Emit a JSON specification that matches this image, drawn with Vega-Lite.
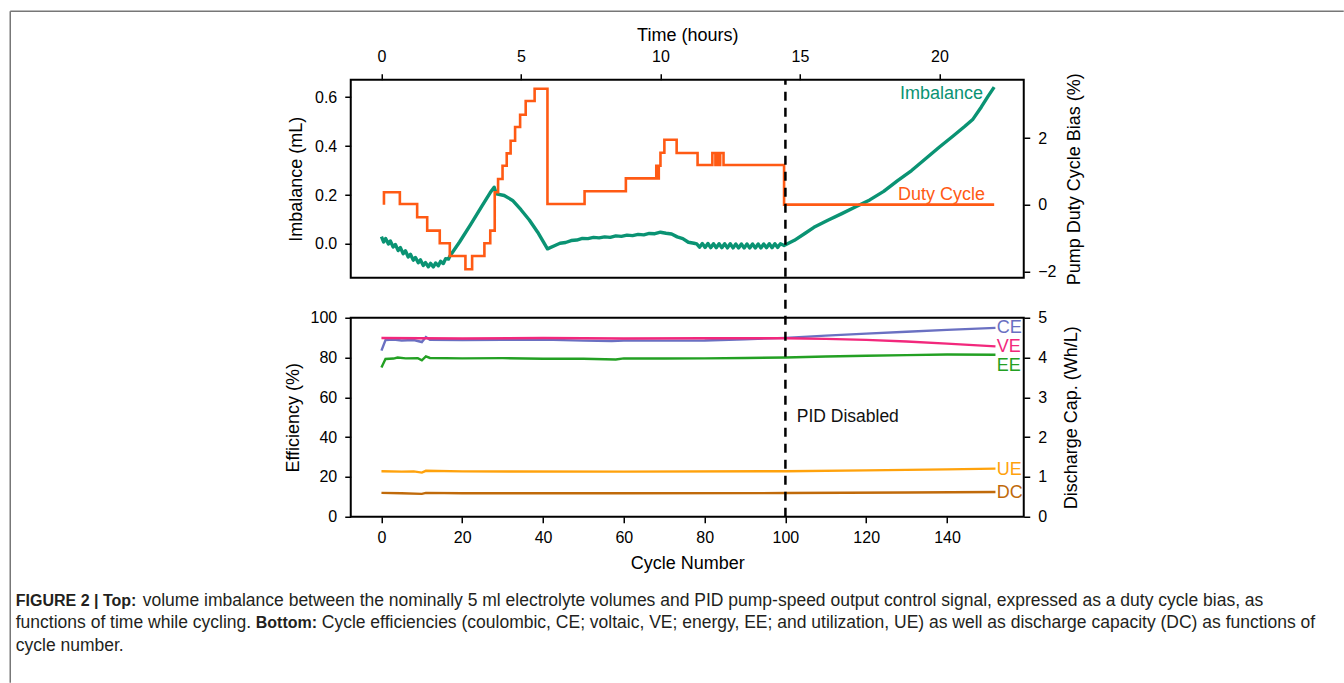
{
  "$schema": "https://vega.github.io/schema/vega-lite/v6.json",
  "padding": {"left": 8.75, "top": 9.75, "right": 0, "bottom": 0},
  "background": "white",
  "bounds": "flush",
  "spacing": 40,
  "config": {
    "font": "Liberation Sans",
    "view": {"stroke": "black", "strokeWidth": 2},
    "axis": {"domain": false, "grid": false, "tickColor": "black", "tickWidth": 1.5, "tickSize": 6, "labelColor": "black", "labelFontSize": 16, "labelPadding": 8, "labelOverlap": false, "titleColor": "black", "titleFontSize": 18, "titleFontWeight": "normal"}
  },
  "datasets": {
    "imb": [
      {"t": 0.0, "v": 0.03}, {"t": 0.08, "v": 0.008}, {"t": 0.15, "v": 0.022}, {"t": 0.25, "v": 0.0}, {"t": 0.32, "v": 0.012},
      {"t": 0.42, "v": -0.012}, {"t": 0.5, "v": -0.002}, {"t": 0.6, "v": -0.027}, {"t": 0.68, "v": -0.015}, {"t": 0.78, "v": -0.04},
      {"t": 0.86, "v": -0.028}, {"t": 0.96, "v": -0.053}, {"t": 1.04, "v": -0.042}, {"t": 1.14, "v": -0.066}, {"t": 1.22, "v": -0.055},
      {"t": 1.32, "v": -0.077}, {"t": 1.4, "v": -0.065}, {"t": 1.5, "v": -0.088}, {"t": 1.58, "v": -0.076}, {"t": 1.68, "v": -0.093},
      {"t": 1.76, "v": -0.079}, {"t": 1.86, "v": -0.094}, {"t": 1.94, "v": -0.078}, {"t": 2.04, "v": -0.089}, {"t": 2.12, "v": -0.071},
      {"t": 2.22, "v": -0.08}, {"t": 2.3, "v": -0.06}, {"t": 2.4, "v": -0.062}, {"t": 2.45, "v": -0.05},
      {"t": 2.8, "v": 0.008}, {"t": 3.2, "v": 0.08}, {"t": 3.6, "v": 0.155}, {"t": 3.9, "v": 0.21}, {"t": 4.04, "v": 0.232},
      {"t": 4.12, "v": 0.205}, {"t": 4.4, "v": 0.198}, {"t": 4.7, "v": 0.178}, {"t": 5.0, "v": 0.14}, {"t": 5.3, "v": 0.098},
      {"t": 5.6, "v": 0.048}, {"t": 5.95, "v": -0.02},
      {"t": 6.2, "v": -0.007}, {"t": 6.4, "v": 0.003}, {"t": 6.6, "v": 0.006}, {"t": 6.8, "v": 0.014}, {"t": 7.0, "v": 0.016},
      {"t": 7.2, "v": 0.023}, {"t": 7.4, "v": 0.022}, {"t": 7.6, "v": 0.027}, {"t": 7.8, "v": 0.025}, {"t": 8.0, "v": 0.029},
      {"t": 8.2, "v": 0.027}, {"t": 8.4, "v": 0.033}, {"t": 8.6, "v": 0.031}, {"t": 8.8, "v": 0.036}, {"t": 9.0, "v": 0.034},
      {"t": 9.2, "v": 0.039}, {"t": 9.4, "v": 0.037}, {"t": 9.6, "v": 0.043}, {"t": 9.8, "v": 0.042}, {"t": 10.0, "v": 0.048},
      {"t": 10.2, "v": 0.044}, {"t": 10.4, "v": 0.041}, {"t": 10.6, "v": 0.029}, {"t": 10.8, "v": 0.022}, {"t": 11.0, "v": 0.007},
      {"t": 11.2, "v": 0.003},
      {"t": 11.3, "v": 0.0}, {"t": 11.4, "v": -0.013}, {"t": 11.5, "v": 0.002}, {"t": 11.6, "v": -0.014}, {"t": 11.7, "v": 0.002},
      {"t": 11.8, "v": -0.015}, {"t": 11.9, "v": 0.001}, {"t": 12.0, "v": -0.015}, {"t": 12.1, "v": 0.001}, {"t": 12.2, "v": -0.015},
      {"t": 12.3, "v": 0.001}, {"t": 12.4, "v": -0.016}, {"t": 12.5, "v": 0.001}, {"t": 12.6, "v": -0.016}, {"t": 12.7, "v": 0.0},
      {"t": 12.8, "v": -0.016}, {"t": 12.9, "v": 0.0}, {"t": 13.0, "v": -0.016}, {"t": 13.1, "v": 0.0}, {"t": 13.2, "v": -0.016},
      {"t": 13.3, "v": 0.0}, {"t": 13.4, "v": -0.016}, {"t": 13.5, "v": 0.0}, {"t": 13.6, "v": -0.016}, {"t": 13.7, "v": 0.0},
      {"t": 13.8, "v": -0.015}, {"t": 13.9, "v": 0.001}, {"t": 14.0, "v": -0.015}, {"t": 14.1, "v": 0.001}, {"t": 14.2, "v": -0.014},
      {"t": 14.3, "v": 0.001}, {"t": 14.43, "v": -0.006},
      {"t": 14.8, "v": 0.015}, {"t": 15.2, "v": 0.045}, {"t": 15.5, "v": 0.068}, {"t": 16.0, "v": 0.097}, {"t": 16.5, "v": 0.124},
      {"t": 17.0, "v": 0.152}, {"t": 17.5, "v": 0.18}, {"t": 18.0, "v": 0.215}, {"t": 18.5, "v": 0.259}, {"t": 19.0, "v": 0.3},
      {"t": 19.5, "v": 0.348}, {"t": 20.0, "v": 0.396}, {"t": 20.5, "v": 0.442}, {"t": 20.9, "v": 0.48}, {"t": 21.2, "v": 0.51},
      {"t": 21.5, "v": 0.56}, {"t": 21.75, "v": 0.605}, {"t": 21.96, "v": 0.641}
    ],
    "duty": [
      {"t": 0.09, "d": 0.0}, {"t": 0.09, "d": 0.37}, {"t": 0.66, "d": 0.02}, {"t": 1.28, "d": -0.38}, {"t": 1.64, "d": -0.78},
      {"t": 2.09, "d": -1.16}, {"t": 2.45, "d": -1.54}, {"t": 3.01, "d": -1.94}, {"t": 3.25, "d": -1.54}, {"t": 3.69, "d": -1.16},
      {"t": 3.9, "d": -0.78}, {"t": 4.06, "d": 0.37}, {"t": 4.18, "d": 0.77}, {"t": 4.34, "d": 1.17}, {"t": 4.49, "d": 1.54},
      {"t": 4.63, "d": 1.92}, {"t": 4.79, "d": 2.33}, {"t": 4.97, "d": 2.7}, {"t": 5.17, "d": 3.11}, {"t": 5.49, "d": 3.48},
      {"t": 5.95, "d": 0.02}, {"t": 7.28, "d": 0.4}, {"t": 8.76, "d": 0.79}, {"t": 9.85, "d": 1.17}, {"t": 9.89, "d": 0.79},
      {"t": 9.94, "d": 1.17}, {"t": 10.0, "d": 1.56}, {"t": 10.14, "d": 1.95}, {"t": 10.58, "d": 1.55}, {"t": 11.33, "d": 1.19},
      {"t": 11.86, "d": 1.55}, {"t": 11.97, "d": 1.19}, {"t": 12.03, "d": 1.55}, {"t": 12.1, "d": 1.19}, {"t": 12.14, "d": 1.55},
      {"t": 12.26, "d": 1.19}, {"t": 14.43, "d": 0.0}, {"t": 21.96, "d": 0.0}
    ],
    "topLabels": [
      {"label": "Imbalance", "t": 21.56, "v": 0.611},
      {"label": "Duty Cycle", "t": 21.63, "v": 0.202}
    ],
    "eff": [
      {"s": "CE", "c": 0, "e": 83.5}, {"s": "CE", "c": 1, "e": 88.8}, {"s": "CE", "c": 3, "e": 89.0}, {"s": "CE", "c": 5, "e": 88.6},
      {"s": "CE", "c": 8, "e": 88.8}, {"s": "CE", "c": 10, "e": 87.8}, {"s": "CE", "c": 11, "e": 90.3}, {"s": "CE", "c": 12, "e": 88.9},
      {"s": "CE", "c": 20, "e": 88.8}, {"s": "CE", "c": 30, "e": 88.9}, {"s": "CE", "c": 40, "e": 89.0}, {"s": "CE", "c": 50, "e": 88.5},
      {"s": "CE", "c": 57, "e": 88.3}, {"s": "CE", "c": 60, "e": 88.6}, {"s": "CE", "c": 70, "e": 88.5}, {"s": "CE", "c": 80, "e": 88.6},
      {"s": "CE", "c": 90, "e": 89.2}, {"s": "CE", "c": 100, "e": 89.9}, {"s": "CE", "c": 110, "e": 91.0}, {"s": "CE", "c": 120, "e": 92.0},
      {"s": "CE", "c": 130, "e": 93.0}, {"s": "CE", "c": 140, "e": 93.9}, {"s": "CE", "c": 152, "e": 94.9},
      {"s": "VE", "c": 0, "e": 89.8}, {"s": "VE", "c": 10, "e": 89.7}, {"s": "VE", "c": 20, "e": 89.6}, {"s": "VE", "c": 40, "e": 89.8},
      {"s": "VE", "c": 60, "e": 89.6}, {"s": "VE", "c": 80, "e": 89.7}, {"s": "VE", "c": 100, "e": 89.7}, {"s": "VE", "c": 110, "e": 89.4},
      {"s": "VE", "c": 120, "e": 88.9}, {"s": "VE", "c": 130, "e": 88.1}, {"s": "VE", "c": 140, "e": 87.0}, {"s": "VE", "c": 152, "e": 85.6},
      {"s": "EE", "c": 0, "e": 75.0}, {"s": "EE", "c": 1, "e": 79.3}, {"s": "EE", "c": 3, "e": 79.5}, {"s": "EE", "c": 4, "e": 80.0},
      {"s": "EE", "c": 6, "e": 79.6}, {"s": "EE", "c": 9, "e": 79.7}, {"s": "EE", "c": 10, "e": 78.6}, {"s": "EE", "c": 11, "e": 80.6},
      {"s": "EE", "c": 12, "e": 79.8}, {"s": "EE", "c": 20, "e": 79.6}, {"s": "EE", "c": 30, "e": 79.7}, {"s": "EE", "c": 40, "e": 79.4},
      {"s": "EE", "c": 50, "e": 79.4}, {"s": "EE", "c": 58, "e": 79.0}, {"s": "EE", "c": 60, "e": 79.6}, {"s": "EE", "c": 70, "e": 79.5},
      {"s": "EE", "c": 80, "e": 79.6}, {"s": "EE", "c": 90, "e": 79.8}, {"s": "EE", "c": 100, "e": 80.0}, {"s": "EE", "c": 110, "e": 80.5},
      {"s": "EE", "c": 120, "e": 80.9}, {"s": "EE", "c": 130, "e": 81.2}, {"s": "EE", "c": 140, "e": 81.5}, {"s": "EE", "c": 152, "e": 81.4},
      {"s": "UE", "c": 0, "e": 22.9}, {"s": "UE", "c": 5, "e": 22.7}, {"s": "UE", "c": 8, "e": 22.8}, {"s": "UE", "c": 10, "e": 22.2},
      {"s": "UE", "c": 11, "e": 23.1}, {"s": "UE", "c": 20, "e": 22.8}, {"s": "UE", "c": 60, "e": 22.7}, {"s": "UE", "c": 100, "e": 22.9},
      {"s": "UE", "c": 120, "e": 23.3}, {"s": "UE", "c": 140, "e": 23.8}, {"s": "UE", "c": 152, "e": 24.2}
    ],
    "dc": [
      {"c": 0, "w": 0.6}, {"c": 5, "w": 0.59}, {"c": 10, "w": 0.575}, {"c": 11, "w": 0.6}, {"c": 20, "w": 0.59},
      {"c": 60, "w": 0.59}, {"c": 100, "w": 0.595}, {"c": 130, "w": 0.61}, {"c": 152, "w": 0.62}
    ],
    "effLabels": [
      {"s": "CE", "c": 152.3, "e": 95.1}, {"s": "VE", "c": 152.3, "e": 85.5}, {"s": "EE", "c": 152.3, "e": 76.0},
      {"s": "UE", "c": 152.3, "e": 23.7}, {"s": "DC", "c": 152.3, "e": 12.1}
    ],
    "pid": [{"c": 100, "e": 0, "hi": 219.8}],
    "pidText": [{"c": 102.8, "e": 50.3, "text": "PID Disabled"}],
    "capBody": [
      {"line": 1, "at": 127, "text": "volume imbalance between the nominally 5 ml electrolyte volumes and PID pump-speed output control signal, expressed as a duty cycle bias, as"},
      {"line": 2, "at": 0, "text": "functions of time while cycling."},
      {"line": 2, "at": 306, "text": "Cycle efficiencies (coulombic, CE; voltaic, VE; energy, EE; and utilization, UE) as well as discharge capacity (DC) as functions of"},
      {"line": 3, "at": 0, "text": "cycle number."}
    ],
    "capBold": [
      {"line": 1, "at": 0, "text": "FIGURE 2 | Top:"},
      {"line": 2, "at": 240, "text": "Bottom:"}
    ],
    "frame": [
      {"at": -5.5, "at2": -5.5, "line": -25.2, "line2": 4.64},
      {"at": -5.5, "at2": 1328, "line": -25.2, "line2": -25.2}
    ]
  },
  "vconcat": [
    {
      "width": 673,
      "height": 198,
      "layer": [
        {
          "layer": [
            {
              "data": {"name": "imb"},
              "mark": {"type": "line", "color": "#0a9373", "strokeWidth": 3.4, "strokeJoin": "round"},
              "encoding": {
                "x": {"field": "t", "type": "quantitative", "scale": {"domain": [-1.1, 23.02], "nice": false, "zero": false},
                      "axis": {"orient": "top", "title": "Time (hours)", "values": [0, 5, 10, 15, 20], "labelPadding": 9, "titlePadding": 4}},
                "y": {"field": "v", "type": "quantitative", "scale": {"domain": [-0.138, 0.671], "nice": false, "zero": false},
                      "axis": {"orient": "left", "title": "Imbalance (mL)", "values": [0, 0.2, 0.4, 0.6], "format": ".1f", "titlePadding": 9}}
              }
            },
            {
              "data": {"name": "topLabels"},
              "mark": {"type": "text", "align": "right", "baseline": "middle", "fontSize": 18},
              "encoding": {
                "x": {"field": "t", "type": "quantitative"},
                "y": {"field": "v", "type": "quantitative"},
                "text": {"field": "label"},
                "color": {"field": "label", "type": "nominal", "scale": {"domain": ["Imbalance", "Duty Cycle"], "range": ["#0a9373", "#ff5a14"]}, "legend": null}
              }
            }
          ]
        },
        {
          "data": {"name": "duty"},
          "mark": {"type": "line", "interpolate": "step-after", "color": "#ff5a14", "strokeWidth": 2.6},
          "encoding": {
            "x": {"field": "t", "type": "quantitative"},
            "y": {"field": "d", "type": "quantitative", "scale": {"domain": [-2.195, 3.75], "nice": false, "zero": false},
                  "axis": {"orient": "right", "title": "Pump Duty Cycle Bias (%)", "values": [-2, 0, 2], "titleAngle": 270, "titleBaseline": "top", "titlePadding": 10}}
          }
        }
      ],
      "resolve": {"scale": {"y": "independent", "color": "independent"}}
    },
    {
      "width": 673,
      "height": 199,
      "layer": [
        {
          "data": {"name": "dc"},
          "mark": {"type": "line", "color": "#c06a0a", "strokeWidth": 2.4},
          "encoding": {
            "x": {"field": "c", "type": "quantitative", "scale": {"domain": [-7.6, 159], "nice": false, "zero": false},
                  "axis": {"orient": "bottom", "title": "Cycle Number", "values": [0, 20, 40, 60, 80, 100, 120, 140], "labelPadding": 7, "titlePadding": 9}},
            "y": {"field": "w", "type": "quantitative", "scale": {"domain": [0, 5], "nice": false},
                  "axis": {"orient": "right", "title": "Discharge Cap. (Wh/L)", "values": [0, 1, 2, 3, 4, 5], "titleAngle": 270, "titleBaseline": "top", "titlePadding": 16}}
          }
        },
        {
          "layer": [
            {
              "data": {"name": "eff"},
              "mark": {"type": "line", "strokeWidth": 2.4},
              "encoding": {
                "x": {"field": "c", "type": "quantitative"},
                "y": {"field": "e", "type": "quantitative", "scale": {"domain": [0, 100], "nice": false},
                      "axis": {"orient": "left", "title": "Efficiency (%)", "values": [0, 20, 40, 60, 80, 100], "titlePadding": 8, "labelOverlap": false}},
                "color": {"field": "s", "type": "nominal", "scale": {"domain": ["CE", "VE", "EE", "UE", "DC"], "range": ["#6a70c2", "#f2287c", "#23a023", "#ffa20c", "#c06a0a"]}, "legend": null}
              }
            },
            {
              "data": {"name": "effLabels"},
              "mark": {"type": "text", "align": "left", "baseline": "middle", "fontSize": 18},
              "encoding": {
                "x": {"field": "c", "type": "quantitative"},
                "y": {"field": "e", "type": "quantitative", "axis": {"orient": "left", "title": "Efficiency (%)", "values": [0, 20, 40, 60, 80, 100], "titlePadding": 8, "labelOverlap": false}},
                "text": {"field": "s"},
                "color": {"field": "s", "type": "nominal"}
              }
            },
            {
              "data": {"name": "pidText"},
              "mark": {"type": "text", "align": "left", "baseline": "middle", "fontSize": 17.5, "color": "#111111"},
              "encoding": {
                "x": {"field": "c", "type": "quantitative"},
                "y": {"field": "e", "type": "quantitative", "axis": {"orient": "left", "title": "Efficiency (%)", "values": [0, 20, 40, 60, 80, 100], "titlePadding": 8, "labelOverlap": false}},
                "text": {"field": "text"}
              }
            },
            {
              "data": {"name": "pid"},
              "mark": {"type": "rule", "color": "black", "strokeWidth": 2.5, "strokeDash": [9, 7]},
              "encoding": {
                "x": {"field": "c", "type": "quantitative"},
                "y": {"field": "e", "type": "quantitative", "axis": {"orient": "left", "title": "Efficiency (%)", "values": [0, 20, 40, 60, 80, 100], "titlePadding": 8, "labelOverlap": false}},
                "y2": {"field": "hi"}
              }
            }
          ]
        }
      ],
      "resolve": {"scale": {"y": "independent"}}
    },
    {
      "width": 673,
      "height": 100,
      "view": {"stroke": null},
      "layer": [
        {
          "data": {"name": "capBody"},
          "mark": {"type": "text", "align": "left", "baseline": "middle", "fontSize": 17.5, "color": "#231f20"},
          "encoding": {
            "x": {"field": "at", "type": "quantitative", "scale": {"domain": [0, 1000], "range": [-335, 665]}, "axis": null},
            "y": {"field": "line", "type": "quantitative", "scale": {"domain": [1, 3], "range": [44, 89]}, "axis": null},
            "text": {"field": "text"}
          }
        },
        {
          "data": {"name": "capBold"},
          "mark": {"type": "text", "align": "left", "baseline": "middle", "fontSize": 16, "fontWeight": "bold", "color": "#231f20"},
          "encoding": {
            "x": {"field": "at", "type": "quantitative", "axis": null},
            "y": {"field": "line", "type": "quantitative", "axis": null},
            "text": {"field": "text"}
          }
        },
        {
          "data": {"name": "frame"},
          "mark": {"type": "rule", "color": "#777777", "strokeWidth": 1.5},
          "encoding": {
            "x": {"field": "at", "type": "quantitative", "axis": null},
            "x2": {"field": "at2"},
            "y": {"field": "line", "type": "quantitative", "axis": null},
            "y2": {"field": "line2"}
          }
        }
      ]
    }
  ]
}
